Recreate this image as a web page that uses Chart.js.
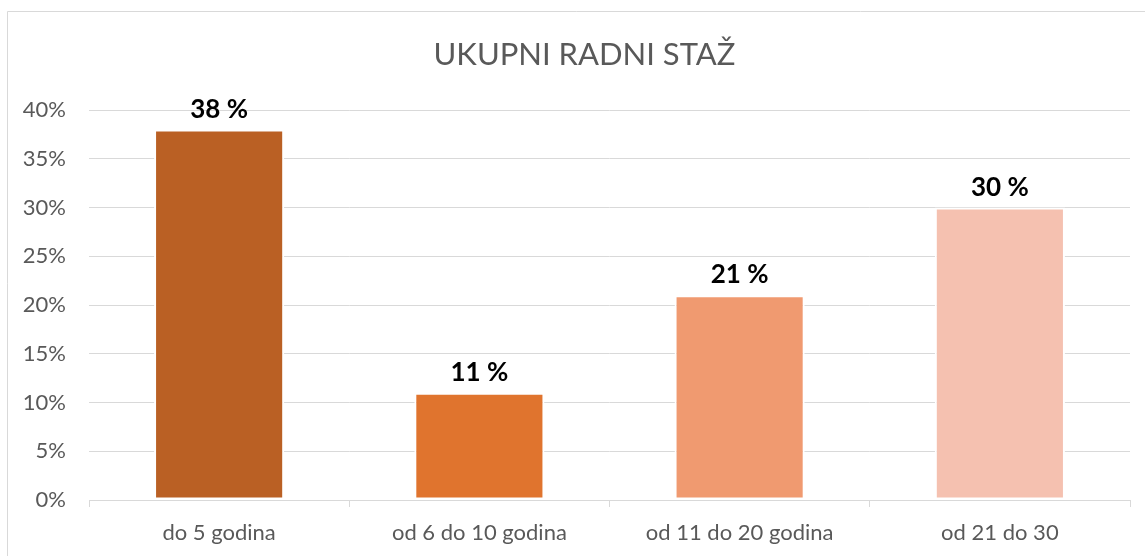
<!DOCTYPE html>
<html>
<head>
<meta charset="utf-8">
<script src="https://cdn.jsdelivr.net/npm/chart.js@4/dist/chart.umd.min.js"></script>
<style>
html,body{margin:0;padding:0;background:#fff;}
#wrap{position:absolute;left:0;top:0;width:1145px;height:556px;}
</style>
</head>
<body>
<div id="wrap"><canvas id="c" width="1145" height="556"></canvas></div>
<script>
const chartTitle = 'UKUPNI RADNI STAŽ';
const categories = ['do 5 godina', 'od 6 do 10 godina', 'od 11 do 20 godina', 'od 21 do 30'];
const values = [38, 11, 21, 30];
const barColors = ['#BA6024', '#E0742E', '#F09A70', '#F5C1B0'];
const yTicksMin = 0, yTicksMax = 40, yTicksStep = 5;

const FONT = 'Lato, "Open Sans", sans-serif';

const framePlugin = {
  id: 'frame',
  beforeDraw(chart) {
    const ctx = chart.ctx;
    ctx.save();
    ctx.fillStyle = '#fff';
    ctx.fillRect(0, 0, chart.width, chart.height);
    ctx.strokeStyle = '#d9d9d9';
    ctx.lineWidth = 1;
    ctx.beginPath();
    ctx.moveTo(7.5, chart.height);
    ctx.lineTo(7.5, 11.5);
    ctx.lineTo(chart.width, 11.5);
    ctx.stroke();
    ctx.restore();
  },
  afterDraw(chart) {
    const ctx = chart.ctx;
    ctx.save();
    ctx.fillStyle = '#595959';
    ctx.font = '31px ' + FONT;
    ctx.textAlign = 'center';
    ctx.textBaseline = 'middle';
    ctx.fillText(chartTitle, 584.5, 55);
    ctx.restore();
  }
};

const labelPlugin = {
  id: 'barLabels',
  afterDatasetsDraw(chart) {
    const ctx = chart.ctx;
    const meta = chart.getDatasetMeta(0);
    ctx.save();
    ctx.fillStyle = '#000';
    ctx.font = 'bold 26px ' + FONT;
    ctx.textAlign = 'center';
    ctx.textBaseline = 'alphabetic';
    meta.data.forEach((bar, i) => {
      ctx.fillText(values[i] + ' %', bar.x, bar.y - 12);
    });
    ctx.restore();
  }
};

new Chart(document.getElementById('c'), {
  type: 'bar',
  data: {
    labels: categories,
    datasets: [{
      data: values,
      backgroundColor: barColors,
      borderColor: '#ffffff',
      borderWidth: 2,
      borderSkipped: false,
      barPercentage: 0.5,
      categoryPercentage: 1.0
    }]
  },
  options: {
    responsive: false,
    animation: false,
    devicePixelRatio: 1,
    layout: { padding: { top: 110, right: 15, left: 0, bottom: 0 } },
    plugins: {
      legend: { display: false },
      title: { display: false },
      tooltip: { enabled: false }
    },
    scales: {
      x: {
        grid: {
          drawOnChartArea: false,
          drawTicks: true,
          tickLength: 7,
          offset: true,
          color: '#d9d9d9'
        },
        border: { display: true, color: '#d9d9d9', width: 1 },
        ticks: {
          color: '#595959',
          font: { family: FONT, size: 22 },
          padding: 13,
          maxRotation: 0
        },
        afterFit(scale) { scale.height = 56; }
      },
      y: {
        min: yTicksMin,
        max: yTicksMax,
        grid: { color: '#d9d9d9', lineWidth: 1, drawTicks: false },
        border: { display: false },
        ticks: {
          stepSize: yTicksStep,
          color: '#595959',
          font: { family: FONT, size: 22 },
          padding: 23,
          callback: v => v + '%'
        },
        afterFit(scale) { scale.width = 89; }
      }
    }
  },
  plugins: [framePlugin, labelPlugin]
});
</script>
</body>
</html>
